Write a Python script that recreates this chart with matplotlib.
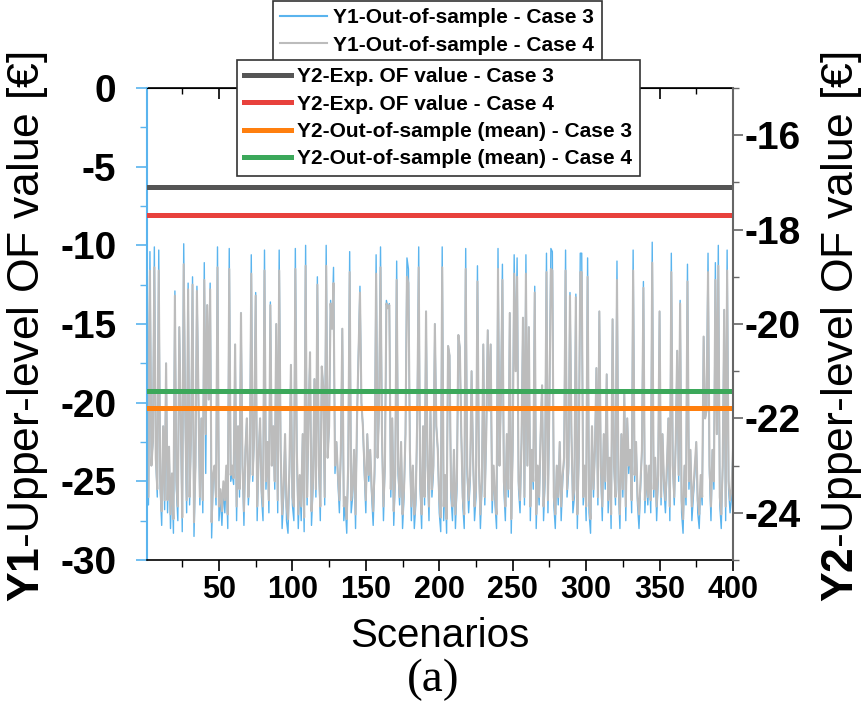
import numpy as np
import matplotlib
matplotlib.use("Agg")
import matplotlib.pyplot as plt
from matplotlib.ticker import MultipleLocator

plt.rcParams['font.family'] = ['Liberation Sans', 'DejaVu Sans']
plt.rcParams['mathtext.fontset'] = 'custom'
plt.rcParams['mathtext.bf'] = 'Liberation Sans:bold'
plt.rcParams['mathtext.rm'] = 'Liberation Sans'
plt.rcParams['axes.unicode_minus'] = False

# Y1 out-of-sample values per scenario
case3_oos = [
    -10.8, -26.5, -10.4, -24.0, -22.5, -10.1, -23.5, -26.0, -10.3, -25.5,
    -27.8, -21.5, -26.8, -17.5, -27.0, -22.8, -28.0, -24.5, -28.3, -12.9,
    -25.5, -27.5, -15.2, -21.0, -28.2, -9.9, -20.5, -27.0, -12.4, -26.5,
    -22.0, -12.0, -28.5, -24.0, -12.6, -19.5, -26.5, -21.0, -27.0, -11.1,
    -24.5, -13.8, -19.8, -12.4, -28.6, -25.0, -24.0, -26.5, -10.1, -27.5,
    -26.0, -27.8, -25.5, -27.0, -24.5, -28.0, -10.2, -25.0, -24.5, -25.2,
    -16.3, -27.5, -21.5, -26.0, -14.3, -24.0, -27.8, -23.0, -21.0, -26.5,
    -24.5, -10.6, -25.0, -22.0, -13.0, -27.5, -23.5, -21.0, -26.0, -27.5,
    -10.3, -25.5, -22.5, -27.0, -13.6, -24.0, -21.5, -25.5, -15.0, -27.0,
    -10.3, -23.0, -28.0, -26.0, -22.0, -27.5, -28.3, -24.5, -17.6, -26.5,
    -27.5, -10.2, -23.0, -28.0, -25.0, -27.5, -22.0, -28.2, -10.0, -26.5,
    -21.0, -16.8, -27.8, -25.5, -18.5, -26.0, -12.0, -24.0, -27.5, -17.7,
    -19.0, -26.5, -10.0, -23.5, -21.5, -13.5, -15.3, -11.4, -24.5, -22.5,
    -25.0, -27.0, -23.0, -15.3, -27.5, -26.5, -28.3, -24.0, -10.4, -27.0,
    -26.0, -23.0, -28.0, -21.0, -16.9, -12.6, -20.0, -21.5, -24.5, -27.0,
    -22.0, -25.0, -23.0, -26.0, -27.8, -24.5, -10.6, -23.5, -20.5, -10.1,
    -22.0, -27.5, -24.0, -13.5, -14.0, -13.7, -26.0, -21.0, -27.8, -25.0,
    -11.0, -24.5, -26.5, -22.5, -28.0, -26.0, -22.0, -10.8, -11.5, -23.0,
    -27.5, -24.0, -28.0, -26.5, -21.0, -10.1, -25.5, -28.0, -21.5, -26.5,
    -14.2, -24.0, -27.5, -20.5, -26.0, -24.5, -15.0, -21.5, -23.0, -27.0,
    -28.2, -10.1, -27.5, -25.0, -28.3, -16.4, -17.0, -26.0, -27.5, -23.0,
    -28.0, -25.5, -15.7, -16.5, -22.0, -26.5, -28.0, -10.2, -24.5, -27.0,
    -25.0, -18.0, -23.5, -27.5, -26.0, -11.3, -24.0, -28.0, -25.5, -16.3,
    -26.5, -22.0, -15.4, -20.5, -16.3, -27.0, -24.5, -26.5, -28.0, -10.2,
    -24.0, -19.5, -11.2, -25.5, -27.5, -22.0, -26.0, -14.3, -28.3, -23.0,
    -10.6, -18.0, -10.8, -25.5, -27.0, -22.5, -14.6, -26.5, -10.6, -24.0,
    -15.2, -27.5, -23.0, -25.5, -12.6, -28.0, -24.5, -26.5, -22.0, -18.9,
    -27.5, -25.0, -10.5, -27.0, -20.0, -10.2, -10.4, -26.5, -28.0, -24.0,
    -26.5, -22.5, -27.5, -25.0, -23.5, -10.3, -26.0, -24.5, -13.0, -22.0,
    -27.0, -26.0, -13.1, -28.0, -23.5, -10.5, -10.5, -26.5, -24.0, -27.5,
    -10.8, -27.0, -28.3, -21.5, -26.0, -23.0, -17.8, -26.5, -14.2, -24.5,
    -27.5, -22.0, -25.5, -18.2, -27.0, -23.5, -28.0, -14.7, -24.0, -26.5,
    -11.0, -25.5, -28.0, -22.0, -26.0, -19.4, -27.5, -21.0, -24.5, -23.0,
    -27.0, -10.3, -25.0, -22.5, -26.5, -28.0, -25.5, -23.0, -12.3, -27.0,
    -24.5, -26.5, -24.0, -27.0, -9.8, -26.0, -23.5, -27.5, -25.0, -14.2,
    -26.5, -22.0, -25.5, -27.0, -24.5, -21.0, -27.5, -10.5, -24.0, -26.5,
    -22.5, -16.7, -25.0, -13.5, -27.0, -28.3, -24.0, -26.5, -11.2, -25.5,
    -23.0, -27.5, -26.0, -24.5, -22.5, -27.0, -28.0, -25.0, -26.5, -15.8,
    -21.0, -20.5, -10.5, -24.5, -27.5, -23.0, -25.5, -11.1, -22.0, -10.0,
    -26.5, -28.0, -24.0, -14.1, -27.5, -10.3, -25.5, -27.0, -26.0, -23.0,
]

case4_oos = [
    -12.0, -26.0, -11.6, -24.0, -22.5, -11.4, -23.5, -25.5, -11.6, -25.0,
    -26.9, -21.5, -26.2, -17.5, -26.2, -22.8, -27.1, -24.5, -27.4, -13.2,
    -25.0, -26.6, -15.2, -21.0, -27.3, -11.2, -20.5, -26.2, -12.8, -26.0,
    -22.0, -12.5, -27.6, -24.0, -12.9, -19.5, -26.0, -21.0, -26.2, -12.2,
    -22.0, -13.8, -19.8, -12.8, -27.6, -24.6, -24.0, -26.0, -11.4, -26.6,
    -25.5, -26.9, -25.0, -26.2, -24.0, -27.1, -11.5, -24.6, -24.0, -24.8,
    -16.3, -26.6, -21.5, -25.5, -14.3, -24.0, -26.9, -23.0, -21.0, -26.0,
    -24.0, -11.8, -24.6, -22.0, -13.2, -26.6, -23.5, -21.0, -25.5, -26.6,
    -11.6, -25.0, -22.5, -26.2, -13.8, -24.0, -21.5, -25.0, -15.0, -26.2,
    -11.6, -23.0, -27.1, -25.5, -22.0, -26.6, -27.4, -24.0, -17.6, -26.0,
    -26.6, -11.5, -23.0, -27.1, -24.6, -26.6, -22.0, -27.3, -11.3, -26.0,
    -21.0, -16.8, -26.9, -25.0, -18.5, -25.5, -12.5, -24.0, -26.6, -17.7,
    -19.0, -26.0, -11.3, -23.5, -21.5, -13.7, -15.3, -12.4, -24.0, -22.5,
    -24.6, -26.2, -23.0, -15.3, -26.6, -26.0, -27.4, -24.0, -11.7, -26.2,
    -25.5, -23.0, -27.1, -21.0, -16.9, -13.0, -20.0, -21.5, -24.0, -26.2,
    -22.0, -24.6, -23.0, -25.5, -26.9, -24.0, -11.8, -23.5, -20.5, -11.4,
    -22.0, -26.6, -24.0, -13.7, -14.0, -13.8, -25.5, -21.0, -26.9, -24.6,
    -12.2, -24.0, -26.0, -22.5, -27.1, -25.5, -22.0, -12.0, -12.4, -23.0,
    -26.6, -24.0, -27.1, -26.0, -21.0, -11.4, -25.0, -27.1, -21.5, -26.0,
    -14.2, -24.0, -26.6, -20.5, -25.5, -24.0, -15.0, -21.5, -23.0, -26.2,
    -27.3, -11.4, -26.6, -24.6, -27.4, -16.4, -17.0, -25.5, -26.6, -23.0,
    -27.1, -25.0, -15.7, -16.5, -22.0, -26.0, -27.1, -11.5, -24.0, -26.2,
    -24.6, -18.0, -23.5, -26.6, -25.5, -12.3, -24.0, -27.1, -25.0, -16.3,
    -26.0, -22.0, -15.4, -20.5, -16.3, -26.2, -24.0, -26.0, -27.1, -11.5,
    -24.0, -19.5, -12.2, -25.0, -26.6, -22.0, -25.5, -14.3, -27.4, -23.0,
    -11.8, -18.0, -12.0, -25.0, -26.2, -22.5, -14.6, -26.0, -11.8, -24.0,
    -15.2, -26.6, -23.0, -25.0, -13.0, -27.1, -24.0, -26.0, -22.0, -18.9,
    -26.6, -24.6, -11.7, -26.2, -20.0, -11.5, -11.6, -26.0, -27.1, -24.0,
    -26.0, -22.5, -26.6, -24.6, -23.5, -11.6, -25.5, -24.0, -13.2, -22.0,
    -26.2, -25.5, -13.3, -27.1, -23.5, -11.7, -11.7, -26.0, -24.0, -26.6,
    -12.0, -26.2, -27.4, -21.5, -25.5, -23.0, -17.8, -26.0, -14.2, -24.0,
    -26.6, -22.0, -25.0, -18.2, -26.2, -23.5, -27.1, -14.7, -24.0, -26.0,
    -12.2, -25.0, -27.1, -22.0, -25.5, -19.4, -26.6, -21.0, -24.0, -23.0,
    -26.2, -11.6, -24.6, -22.5, -26.0, -27.1, -25.0, -23.0, -12.7, -26.2,
    -24.0, -26.0, -24.0, -26.2, -11.1, -25.5, -23.5, -26.6, -24.6, -14.2,
    -26.0, -22.0, -25.0, -26.2, -24.0, -21.0, -26.6, -11.7, -24.0, -26.0,
    -22.5, -16.7, -24.6, -13.7, -26.2, -27.4, -24.0, -26.0, -12.3, -25.0,
    -23.0, -26.6, -25.5, -24.0, -22.5, -26.2, -27.1, -24.6, -26.0, -15.8,
    -21.0, -20.5, -11.7, -24.0, -26.6, -23.0, -25.0, -12.2, -22.0, -11.3,
    -26.0, -27.1, -24.0, -14.1, -26.6, -11.6, -25.0, -26.2, -25.5, -23.0,
]

scenarios = np.arange(1, len(case3_oos) + 1)

# Y2 reference levels
y2_labels = ['Y2-Exp. OF value - Case 3', 'Y2-Exp. OF value - Case 4',
             'Y2-Out-of-sample (mean) - Case 3', 'Y2-Out-of-sample (mean) - Case 4']
y2_values = [-17.10, -17.69, -21.77, -21.41]
y2_colors = ['#555555', '#e8413c', '#ff7f0e', '#3ba85a']

blue = '#5ab4ee'

fig = plt.figure(figsize=(8.64, 7.07), dpi=100)
ax = fig.add_axes([147/864, 1 - 560/707, (733 - 147)/864, (560 - 88)/707])
ax2 = ax.twinx()

l1, = ax.plot(scenarios, case3_oos, color=blue, lw=1.0, label='Y1-Out-of-sample - Case 3')
l2, = ax.plot(scenarios, case4_oos, color='#bcbcbc', lw=1.5, label='Y1-Out-of-sample - Case 4')

hl = []
for v, c, lab in zip(y2_values, y2_colors, y2_labels):
    h = ax2.axhline(v, color=c, lw=3.6, label=lab)
    hl.append(h)

ax.set_xlim(1, 400)
ax.set_ylim(-30, 0)
ax2.set_ylim(-25, -15)

ax.xaxis.set_major_locator(MultipleLocator(50))
ax.xaxis.set_minor_locator(MultipleLocator(25))
ax.yaxis.set_major_locator(MultipleLocator(5))
ax.yaxis.set_minor_locator(MultipleLocator(2.5))
ax2.set_yticks([-24, -22, -20, -18, -16])
ax2.yaxis.set_minor_locator(MultipleLocator(1))

ax.tick_params(axis='x', which='major', direction='out', length=8, width=1.2,
               labelsize=22, pad=3)
ax.tick_params(axis='x', which='minor', direction='out', length=5, width=1)
ax.tick_params(axis='y', which='major', direction='out', length=8, width=1.2,
               color=blue, labelsize=28, pad=14)
ax.tick_params(axis='y', which='minor', direction='out', length=5, width=1, color=blue)
ax2.tick_params(axis='y', which='major', direction='out', length=7, width=1.2,
                color='#666666', labelsize=28, pad=1)
ax2.tick_params(axis='y', which='minor', direction='out', length=4, width=1, color='#666666')
for lab in ax.get_xticklabels() + ax.get_yticklabels() + ax2.get_yticklabels():
    lab.set_fontweight('bold')

# top ticks pointing inward
top = ax.secondary_xaxis('top')
top.xaxis.set_major_locator(MultipleLocator(50))
top.xaxis.set_minor_locator(MultipleLocator(25))
top.tick_params(which='major', direction='in', length=8, width=1.2, labeltop=False)
top.tick_params(which='minor', direction='in', length=4, width=1)
top.spines['top'].set_linewidth(1.2)

ax.spines['left'].set_color(blue)
ax.spines['left'].set_linewidth(1.5)
ax.spines['right'].set_visible(False)
ax.spines['bottom'].set_linewidth(1.2)
for s in ['left', 'top', 'bottom']:
    ax2.spines[s].set_visible(False)
ax2.spines['right'].set_color('#666666')
ax2.spines['right'].set_linewidth(1.5)

fig.text(28/864, 0.537, r'$\mathbf{Y1}$-Upper-level OF value [€]', rotation=90,
         fontsize=32, ha='center', va='center')
fig.text(842/864, 0.537, r'$\mathbf{Y2}$-Upper-level OF value [€]', rotation=90,
         fontsize=32, ha='center', va='center')
fig.text(440/864, 1 - 647/707, 'Scenarios', fontsize=29, ha='center', va='baseline')
fig.text(433/864, 1 - 680/707, '(a)', fontsize=34, ha='center', va='center',
         family=['Liberation Serif', 'DejaVu Serif'])

leg_kw = dict(loc='upper left', bbox_transform=fig.transFigure, fancybox=False,
              framealpha=1, edgecolor='#333333', borderpad=0.35, borderaxespad=0,
              handlelength=2.25, handletextpad=0.3, labelspacing=0.4,
              prop={'weight': 'bold', 'size': 15})
leg1 = fig.legend(handles=[l1, l2], bbox_to_anchor=(273/864, 1 - 1/707), **leg_kw)
leg1.get_lines()[0].set_linewidth(1.5)
leg1.get_lines()[1].set_linewidth(1.5)
leg2 = fig.legend(handles=hl, bbox_to_anchor=(237/864, 1 - 60/707), **leg_kw)
for f in (leg1, leg2):
    f.get_frame().set_linewidth(1.2)

fig.savefig('out.png', dpi=100)
